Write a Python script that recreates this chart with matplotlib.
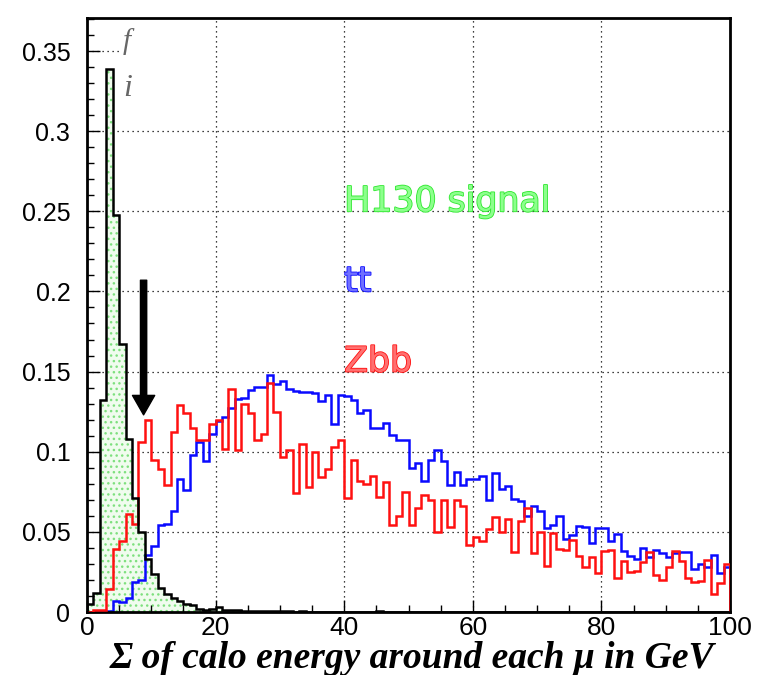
import numpy as np
import matplotlib
matplotlib.use('Agg')
import matplotlib.pyplot as plt
from matplotlib import patheffects as pe
from matplotlib.ticker import MultipleLocator

# ---------------- data ----------------
bin_edges = list(range(0, 101))  # 1 GeV bins, 0..100 GeV

h130_signal = [
    0.005, 0.012, 0.132, 0.339, 0.248, 0.167, 0.108, 0.071, 0.050, 0.033,
    0.024, 0.015, 0.0115, 0.0085, 0.0069, 0.0052, 0.0044, 0.0018, 0.0013, 0.002,
    0.003, 0.0015, 0.0012, 0.0010, 0.0008, 0.0008, 0.0006, 0.0006, 0.0005, 0.0005,
    0.0004, 0.0004, 0.0003, 0.0004, 0.0003, 0.0003, 0.0002, 0.0003, 0.0002, 0.0002,
    0.0002, 0.0002, 0.0001, 0.0002, 0.0003, 0.0004, 0.0003, 0.0001, 0.0001, 0.0002,
    0.0001, 0.0001, 0.0001, 0.0001, 0.0001, 0.0001, 0.0001, 0.0001, 0.0001, 0.0001,
    0.0001, 0.0001, 0.0001, 0.0001, 0.0001, 0.0001, 0.0001, 0.0001, 0.0001, 0.0001,
    0.0001, 0.0001, 0.0001, 0.0001, 0.0001, 0.0001, 0.0001, 0.0001, 0.0001, 0.0001,
    0.0001, 0.0001, 0.0001, 0.0001, 0.0001, 0.0001, 0.0001, 0.0001, 0.0001, 0.0001,
    0.0001, 0.0001, 0.0001, 0.0001, 0.0001, 0.0001, 0.0001, 0.0001, 0.0001, 0.0001,
]

tt_background = [
    0.0, 0.0, 0.0, 0.0008, 0.0067, 0.0065, 0.0085, 0.019, 0.020, 0.0356,
    0.041, 0.054, 0.055, 0.063, 0.083, 0.076, 0.098, 0.106, 0.094, 0.111,
    0.119, 0.1215, 0.127, 0.133, 0.1335, 0.1385, 0.1406, 0.1406, 0.148, 0.142,
    0.144, 0.139, 0.1377, 0.1375, 0.1375, 0.1365, 0.1315, 0.1354, 0.117, 0.1354,
    0.1346, 0.132, 0.124, 0.126, 0.115, 0.115, 0.1177, 0.1106, 0.107, 0.107,
    0.090, 0.093, 0.082, 0.095, 0.101, 0.094, 0.079, 0.0875, 0.079, 0.083,
    0.083, 0.085, 0.070, 0.087, 0.0767, 0.0787, 0.0708, 0.0694, 0.060, 0.066,
    0.063, 0.0527, 0.054, 0.060, 0.0454, 0.048, 0.0535, 0.053, 0.043, 0.0523,
    0.0523, 0.0444, 0.0485, 0.038, 0.035, 0.033, 0.040, 0.0344, 0.0385, 0.037,
    0.0344, 0.037, 0.0375, 0.0377, 0.027, 0.030, 0.028, 0.0356, 0.0246, 0.028,
]

zbb_background = [
    0.0, 0.001, 0.0015, 0.0146, 0.039, 0.044, 0.061, 0.055, 0.106, 0.120,
    0.095, 0.089, 0.079, 0.112, 0.129, 0.124, 0.115, 0.107, 0.107, 0.117,
    0.120, 0.102, 0.139, 0.101, 0.130, 0.124, 0.107, 0.111, 0.143, 0.125,
    0.097, 0.101, 0.074, 0.105, 0.078, 0.100, 0.084, 0.089, 0.103, 0.107,
    0.071, 0.095, 0.082, 0.080, 0.085, 0.0715, 0.081, 0.054, 0.060, 0.0746,
    0.054, 0.0646, 0.073, 0.070, 0.050, 0.070, 0.053, 0.070, 0.066, 0.042,
    0.047, 0.044, 0.052, 0.059, 0.050, 0.058, 0.0377, 0.057, 0.065, 0.0365,
    0.050, 0.029, 0.049, 0.039, 0.0385, 0.045, 0.035, 0.028, 0.0346, 0.0246,
    0.038, 0.0385, 0.021, 0.032, 0.025, 0.0256, 0.0315, 0.0375, 0.023, 0.020,
    0.028, 0.038, 0.032, 0.021, 0.019, 0.0194, 0.0325, 0.011, 0.018, 0.030,
]

x_ticks = [0, 20, 40, 60, 80, 100]
y_ticks = [0, 0.05, 0.1, 0.15, 0.2, 0.25, 0.3, 0.35]
y_tick_labels = ['0', '0.05', '0.1', '0.15', '0.2', '0.25', '0.3', '0.35']

series_labels = ['H130 signal', 'tt', 'Zbb']
label_y = [0.25, 0.20, 0.15]
label_x = 40

# ---------------- style ----------------
plt.rcParams['font.family'] = ['Liberation Sans', 'DejaVu Sans']
plt.rcParams['hatch.color'] = '#7ee07e'
plt.rcParams['hatch.linewidth'] = 1.0

GREEN = '#2ee82e'
BLUE = '#0a0aff'
RED = '#ff1010'

fig = plt.figure(figsize=(7.62, 6.75), dpi=100)
ax = fig.add_axes([87 / 762, 1 - 612 / 675, (730 - 87) / 762, (612 - 18) / 675])
ax.set_xlim(0, 100)
ax.set_ylim(0, 0.3706)

# grid (dotted)
grid_ls = (0, (1, 3))
for xv in x_ticks[1:-1]:
    ax.axvline(xv, color='black', lw=0.9, ls=grid_ls, zorder=0)
for yv in y_ticks[1:-1]:
    ax.axhline(yv, color='black', lw=0.9, ls=grid_ls, zorder=0)
ax.axhline(y_ticks[-1], xmax=0.055, color='black', lw=0.9, ls=grid_ls, zorder=0)

# signal fill (dotted green)
ax.stairs(h130_signal, bin_edges, fill=True, facecolor='#f0fcee',
          edgecolor='#7ee07e', hatch='...', linewidth=0, zorder=1)

ax.stairs(tt_background, bin_edges, color=BLUE, lw=1.8, baseline=0, zorder=2)
ax.stairs(zbb_background, bin_edges, color=RED, lw=1.8, baseline=0, zorder=3)
ax.stairs(h130_signal, bin_edges, color='black', lw=1.8, baseline=0, zorder=4)

# arrow marking the cut
ax.annotate('', xy=(8.8, 0.123), xytext=(8.8, 0.207),
            arrowprops=dict(facecolor='black', edgecolor='black', width=4.5,
                            headwidth=16, headlength=14, shrink=0), zorder=5)

# labels in plot
for text, col, lite, yv in zip(series_labels, [GREEN, BLUE, RED],
                               ['#8cff8c', '#7070ff', '#ff7070'], label_y):
    ax.text(label_x, yv, text, color=lite, fontsize=25, family='DejaVu Sans',
            va='baseline', ha='left', zorder=6,
            path_effects=[pe.Stroke(linewidth=1.2, foreground=col), pe.Normal()])

# stray glyphs near the top-left
ax.text(5.6, 0.351, 'f', color='#666666', fontsize=21, family='Liberation Serif',
        style='italic', va='baseline', ha='left')
ax.text(5.6, 0.322, 'i', color='#666666', fontsize=23, family='Liberation Serif',
        style='italic', va='baseline', ha='left')

# axes
ax.set_xticks(x_ticks)
ax.set_xticklabels([str(v) for v in x_ticks])
ax.set_yticks(y_ticks)
ax.set_yticklabels(y_tick_labels)
ax.xaxis.set_minor_locator(MultipleLocator(5))
ax.yaxis.set_minor_locator(MultipleLocator(0.01))
ax.tick_params(which='both', direction='in', top=False, right=False, width=1)
ax.tick_params(axis='y', labelsize=18, pad=12)
ax.tick_params(axis='x', labelsize=19, pad=3)
ax.tick_params(which='major', length=9)
ax.tick_params(which='minor', length=5)
for s in ax.spines.values():
    s.set_linewidth(2.0)

fig.text(412 / 762, 1 - 668 / 675, 'Σ of calo energy around each μ in GeV',
         ha='center', va='baseline', fontsize=27, fontweight='bold',
         fontstyle='italic', family='Liberation Serif')

fig.savefig('out.png', dpi=100)
